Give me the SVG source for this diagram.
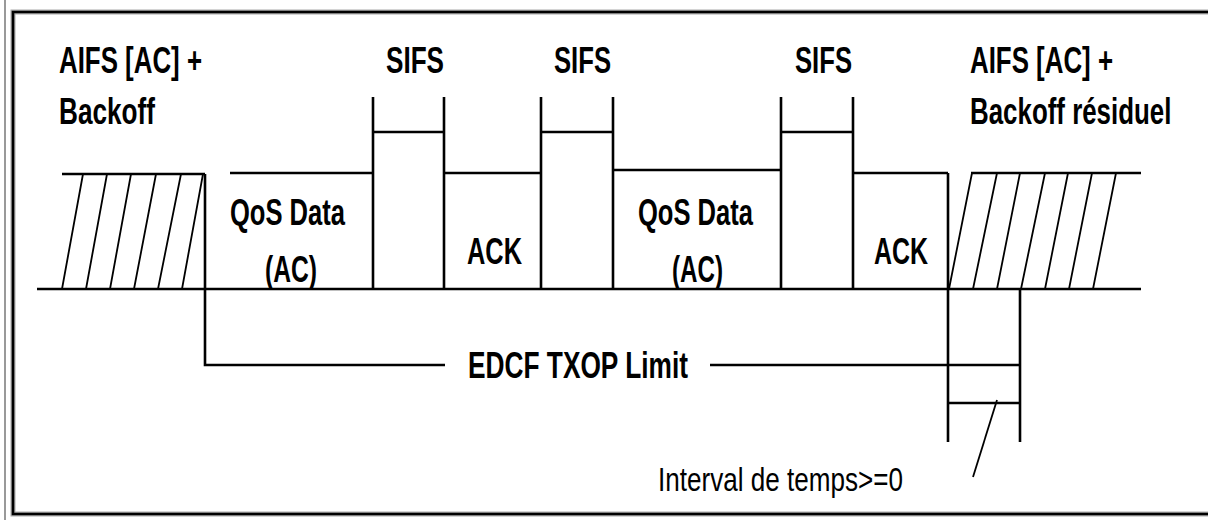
<svg xmlns="http://www.w3.org/2000/svg" width="1208" height="520" viewBox="0 0 1208 520">
<style>
.ln{stroke:#000;stroke-width:2.6;fill:none;stroke-linecap:butt}
.ht{stroke:#000;stroke-width:1.8;fill:none}
.lb{font-family:"Liberation Sans",Arial,sans-serif;font-weight:bold;font-size:37px;fill:#000}
.rg{font-family:"Liberation Sans",Arial,sans-serif;font-size:34px;fill:#000}
</style>
<rect x="0" y="0" width="1208" height="520" fill="#fff"/>
<g id="frame">
<line x1="5" y1="0" x2="5" y2="520" stroke="#777" stroke-width="1.5"/>
<path d="M1208,12 H13 V514 H1208" fill="none" stroke="#aaa" stroke-width="5"/>
<path d="M1208,12 H13 V514 H1208" fill="none" stroke="#000" stroke-width="2.6"/>
</g>
<g id="baseline"><path class="ln" d="M37,289 H1141"/></g>
<g id="backoff1">
<path class="ln" d="M62,174 H205"/>
<path class="ht" d="M62,289 L83,174 M86,289 L107,174 M110,289 L131,174 M134,289 L156,174 M158,289 L181,174 M182,289 L203,174"/>
<text class="lb" x="59" y="73" textLength="143" lengthAdjust="spacingAndGlyphs">AIFS [AC] +</text>
<text class="lb" x="59" y="124" textLength="96" lengthAdjust="spacingAndGlyphs">Backoff</text>
</g>
<g id="qos1">
<path class="ln" d="M230,173 H373"/>
<text class="lb" x="230" y="225" textLength="115" lengthAdjust="spacingAndGlyphs">QoS Data</text>
<text class="lb" x="265" y="282" textLength="52" lengthAdjust="spacingAndGlyphs">(AC)</text>
</g>
<g id="sifs1">
<path class="ln" d="M373,97 V289 M373,132 H444 M444,97 V289"/>
<text class="lb" x="386" y="73" textLength="58" lengthAdjust="spacingAndGlyphs">SIFS</text>
</g>
<g id="ack1">
<path class="ln" d="M444,173 H541"/>
<text class="lb" x="467" y="264" textLength="55" lengthAdjust="spacingAndGlyphs">ACK</text>
</g>
<g id="sifs2">
<path class="ln" d="M541,97 V289 M541,132 H613 M613,97 V289"/>
<text class="lb" x="554" y="73" textLength="57" lengthAdjust="spacingAndGlyphs">SIFS</text>
</g>
<g id="qos2">
<path class="ln" d="M613,170 H781"/>
<text class="lb" x="638" y="225" textLength="115" lengthAdjust="spacingAndGlyphs">QoS Data</text>
<text class="lb" x="672" y="282" textLength="51" lengthAdjust="spacingAndGlyphs">(AC)</text>
</g>
<g id="sifs3">
<path class="ln" d="M781,97 V289 M781,132 H853 M853,97 V289"/>
<text class="lb" x="795" y="73" textLength="57" lengthAdjust="spacingAndGlyphs">SIFS</text>
</g>
<g id="ack2">
<path class="ln" d="M853,173 H948"/>
<text class="lb" x="874" y="264" textLength="54" lengthAdjust="spacingAndGlyphs">ACK</text>
</g>
<g id="backoff2">
<path class="ln" d="M971,173 H1141"/>
<path class="ht" d="M949,289 L972,173 M973,289 L997,173 M997,289 L1020,173 M1021,289 L1045,173 M1045,289 L1068,173 M1069,289 L1092,173 M1093,289 L1116,173"/>
<text class="lb" x="970" y="73" textLength="143" lengthAdjust="spacingAndGlyphs">AIFS [AC] +</text>
<text class="lb" transform="translate(970,124) scale(0.7,1)" x="0" y="0">Backoff résiduel</text>
</g>
<g id="connectors">
<path class="ln" d="M205,174 V365 H445"/>
<path class="ln" d="M710,365 H1020"/>
<path class="ln" d="M948,173 V442"/>
<path class="ln" d="M1020,289 V442"/>
<path class="ln" d="M948,403 H1020"/>
<path class="ht" d="M997,400 L973,477"/>
</g>
<g id="labels">
<text class="lb" x="468" y="378" textLength="220" lengthAdjust="spacingAndGlyphs">EDCF TXOP Limit</text>
<text class="rg" x="658" y="491" textLength="245" lengthAdjust="spacingAndGlyphs">Interval de temps&gt;=0</text>
</g>
</svg>
